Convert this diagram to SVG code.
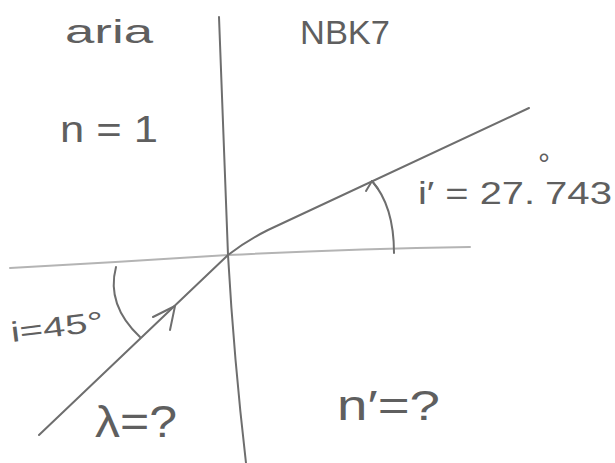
<svg xmlns="http://www.w3.org/2000/svg" width="615" height="463" viewBox="0 0 615 463">
<style>
.ln{fill:none;stroke-linecap:round;stroke-linejoin:round}
.dark{stroke:#6e6e6e;stroke-width:2}
.light{stroke:#b4b4b4;stroke-width:2}
.t{font-family:"Liberation Sans",Arial,sans-serif;fill:#5f5f5f}
</style>
<rect width="615" height="463" fill="#ffffff"/>
<g id="connectors">
  <path id="interface" class="ln dark" d="M219,17 Q224,140 228,255 Q234,360 246,463"/>
  <path id="normal" class="ln light" d="M10,268 Q120,262 228,255 Q350,249 470,247"/>
  <path id="incident-ray" class="ln dark" d="M39,435 L228,255"/>
  <path id="refracted-ray" class="ln dark" d="M228,255 Q246,241 268,230 L529,108"/>
  <path id="arc-i" class="ln dark" d="M116,267 Q106,305 140,337"/>
  <path id="ray-arrow" class="ln dark" d="M153,317 L175,306 L170,330"/>
  <path id="arc-i-prime" class="ln dark" d="M394,253 Q394,206 372,181"/>
  <path id="arc-i-prime-head" class="ln dark" d="M366,191 L372,181 L378,189"/>
</g>
<g id="label-aria"><text class="t" x="65" y="43" font-size="34" textLength="88" lengthAdjust="spacingAndGlyphs">aria</text></g>
<g id="label-nbk7"><text class="t" x="300" y="44" font-size="34" textLength="90" lengthAdjust="spacingAndGlyphs">NBK7</text></g>
<g id="label-n"><text class="t" x="60" y="142" font-size="36" textLength="98" lengthAdjust="spacingAndGlyphs">n = 1</text></g>
<g id="label-i-prime">
  <text class="t" font-size="32"><tspan x="418" y="204" textLength="117" lengthAdjust="spacingAndGlyphs">i′ = 27.</tspan><tspan x="538" y="174" font-size="30">°</tspan><tspan x="545" y="204" textLength="67" lengthAdjust="spacingAndGlyphs">743</tspan></text>
</g>
<g id="label-i"><text class="t" x="12" y="342" font-size="28" textLength="93" lengthAdjust="spacingAndGlyphs" transform="rotate(-7 12 342)">i=45°</text></g>
<g id="label-lambda"><text class="t" x="95" y="437" font-size="44" textLength="82" lengthAdjust="spacingAndGlyphs">λ=?</text></g>
<g id="label-n-prime"><text class="t" x="337" y="420" font-size="42" textLength="103" lengthAdjust="spacingAndGlyphs">n′=?</text></g>
</svg>
